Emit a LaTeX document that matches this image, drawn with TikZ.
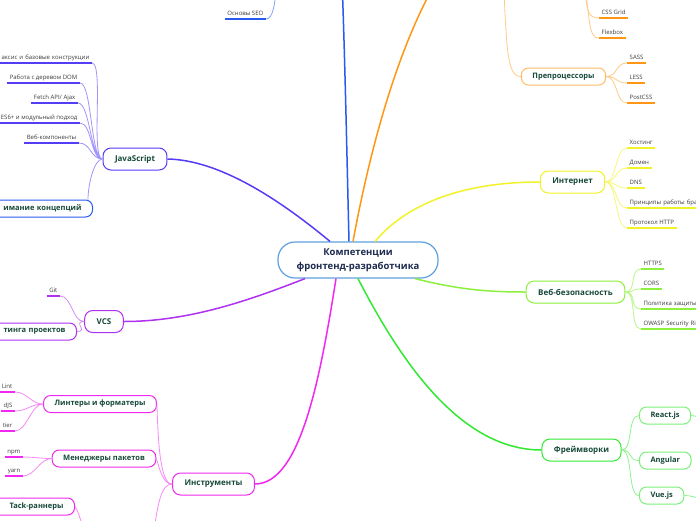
\documentclass[tikz,border=0pt]{standalone}
\usepackage{fontspec}
\setmainfont{Open Sans}
\usepackage{xcolor}
\usepackage{tikz}
\usetikzlibrary{positioning}

\definecolor{roottext}{RGB}{28,42,78}
\definecolor{nodetext}{RGB}{22,72,58}
\definecolor{leaftext}{RGB}{60,60,60}
\definecolor{rootblue}{RGB}{95,160,220}
\definecolor{htmlblue}{RGB}{40,90,240}
\definecolor{jsviolet}{RGB}{85,60,245}
\definecolor{vcspurple}{RGB}{175,50,240}
\definecolor{toolmagenta}{RGB}{240,40,240}
\definecolor{fwgreen}{RGB}{50,232,50}
\definecolor{seclime}{RGB}{140,240,60}
\definecolor{netyellow}{RGB}{242,242,40}
\definecolor{cssorange}{RGB}{255,150,20}

\tikzset{
    node_text/.style = {align=center, text=nodetext, fill=white, inner ysep=0pt},
    root_node/.style = {align=center, draw=rootblue, fill=white, rounded corners=17pt, line width=1.2pt, minimum width=160pt, minimum height=36pt, inner sep=0pt, text=roottext, font=\fontsize{9.5}{14}\selectfont\bfseries},
    main_node/.style = {node_text, draw=#1, rounded corners=8pt, line width=1pt, minimum height=22pt, inner xsep=12pt, font=\fontsize{8}{9}\selectfont\bfseries},
    sub_node/.style = {node_text, draw=#1, rounded corners=7pt, line width=1pt, minimum height=17pt, inner xsep=11pt, font=\fontsize{7.5}{9}\selectfont\bfseries},
    leaf/.style = {inner xsep=2.5pt, inner ysep=2pt, text height=4.6pt, text depth=1.2pt, text=leaftext, font=\fontsize{6}{7}\selectfont,
        append after command={(\tikzlastnode.south west) edge[draw=#1, line width=1.8pt] (\tikzlastnode.south east)}},
    trunk/.style = {draw=#1, line width=1.5pt},
    twig/.style = {draw=#1, line width=0.8pt},
    to_right/.style = {out=0, in=180, distance=12pt},
    to_left/.style = {out=180, in=0, distance=12pt}
}

\begin{document}
\begin{tikzpicture}[x=1pt, y=-1pt]
\path[use as bounding box, fill=white] (0,0) rectangle (696,520);
\clip (0,0) rectangle (696,520);

% parents outside the frame
\coordinate (html_in) at (342,-20);
\coordinate (html_out) at (277,-20);
\coordinate (css_in) at (440,-25);
\coordinate (css_out) at (503,-25);
\coordinate (layout_out) at (584,-25);
\coordinate (build_in) at (152,550);
\coordinate (build_out) at (88,545);
\coordinate (react_out) at (716,428);
\coordinate (vue_out) at (716,502);

\node[root_node] (root) at (358,260) {Компетенции\\фронтенд-разработчика};

% CSS side
\node[sub_node=cssorange!65] (prep) at (563.5,76.5) {Препроцессоры};
\node[leaf=cssorange, anchor=south west] (grid) at (599,18) {CSS Grid};
\node[leaf=cssorange, anchor=south west] (flexbox) at (599,38) {Flexbox};
\node[leaf=cssorange, anchor=south west] (sass) at (627,63) {SASS};
\node[leaf=cssorange, anchor=south west] (less) at (627,83) {LESS};
\node[leaf=cssorange, anchor=south west] (postcss) at (627,103) {PostCSS};

% Интернет
\node[main_node=netyellow] (internet) at (572.5,182) {Интернет};
\node[leaf=netyellow, anchor=south west] (hosting) at (627,148) {Хостинг};
\node[leaf=netyellow, anchor=south west] (domain) at (627,168) {Домен};
\node[leaf=netyellow, anchor=south west] (dns) at (627,188) {DNS};
\node[leaf=netyellow, anchor=south west, text width=80pt, align=left] (browser) at (627,208) {Принципы работы бра};
\node[leaf=netyellow, anchor=south west] (http) at (627,228) {Протокол HTTP};

% Веб-безопасность
\node[main_node=seclime] (websec) at (575.5,292) {Веб-безопасность};
\node[leaf=seclime, anchor=south west] (https) at (641,269) {HTTPS};
\node[leaf=seclime, anchor=south west] (cors) at (641,289) {CORS};
\node[leaf=seclime, anchor=south west, text width=70pt, align=left] (csp) at (641,309) {Политика защиты};
\node[leaf=seclime, anchor=south west, text width=70pt, align=left] (owasp) at (641,329) {OWASP Security Ris};

% Фреймворки
\node[main_node=fwgreen] (frameworks) at (581.5,450) {Фреймворки};
\node[sub_node=fwgreen!65, anchor=west] (react) at (639,415.5) {React.js};
\node[sub_node=fwgreen!65, anchor=west] (angular) at (639,460.5) {Angular};
\node[sub_node=fwgreen!65, anchor=west] (vue) at (639,495.5) {Vue.js};

% Инструменты
\node[main_node=toolmagenta] (tools) at (213.5,484) {Инструменты};
\node[sub_node=toolmagenta] (linters) at (100,404) {Линтеры и форматеры};
\node[sub_node=toolmagenta] (managers) at (104,458.5) {Менеджеры пакетов};
\node[sub_node=toolmagenta, anchor=east, text width=64pt, align=right] (tasks) at (75,506.5) {Tack-раннеры};
\node[leaf=toolmagenta, anchor=south east] (eslint) at (15,392) {Lint};
\node[leaf=toolmagenta, anchor=south east] (standardjs) at (15,411) {dJS};
\node[leaf=toolmagenta, anchor=south east] (prettier) at (15,431) {tier};
\node[leaf=toolmagenta, anchor=south east] (npm) at (23,457) {npm};
\node[leaf=toolmagenta, anchor=south east] (yarn) at (23,476) {yarn};

% VCS
\node[main_node=vcspurple] (vcs) at (104,321.5) {VCS};
\node[sub_node=vcspurple, anchor=east, text width=66pt, align=right] (hosting_proj) at (77,331.5) {тинга проектов};
\node[leaf=vcspurple, anchor=south east] (git) at (60,296) {Git};

% JavaScript
\node[main_node=jsviolet] (js) at (135,159) {JavaScript};
\node[sub_node=htmlblue, anchor=east, text width=82pt, align=right] (concepts) at (93,208.5) {имание концепций};
\node[leaf=jsviolet, anchor=south east, text width=90pt, align=right] (syntax) at (92,63) {аксис и базовые конструкции};
\node[leaf=jsviolet, anchor=south east] (dom) at (80,83) {Работа с деревом DOM};
\node[leaf=jsviolet, anchor=south east] (fetch) at (78,103) {Fetch API/ Ajax};
\node[leaf=jsviolet, anchor=south east] (es6) at (80,123) {ES6+ и модульный подход};
\node[leaf=jsviolet, anchor=south east] (webcomp) at (79,143) {Веб-компоненты};

% HTML
\node[leaf=htmlblue, anchor=south east] (seo) at (266,19) {Основы SEO};

% branches
\draw[trunk=htmlblue] ([xshift=-9pt]root.north) .. controls (347,160) and (345,60) .. (html_in);
\draw[twig=htmlblue!55] (html_out) .. controls (275,5) and (273,19) .. (seo.south east);

\draw[trunk=cssorange] ([xshift=-5pt]root.north) .. controls (368,160) and (395,50) .. (css_in);
\draw[twig=cssorange!50] (css_out) .. controls (507,45) and (506,76.5) .. (prep.west);
\draw[twig=cssorange!50] (layout_out) .. controls (586,12) and (588,18) .. (grid.south west);
\draw[twig=cssorange!50] (layout_out) .. controls (590,25) and (589,38) .. (flexbox.south west);
\draw[twig=cssorange!50, to_right] (prep.east) to (sass.south west)
    (prep.east) to (less.south west)
    (prep.east) to (postcss.south west);

\draw[trunk=netyellow] ([xshift=17pt]root.north) .. controls (410,200) and (470,182) .. (internet.west);
\draw[twig=netyellow!60, to_right] (internet.east) to (hosting.south west)
    (internet.east) to (domain.south west)
    (internet.east) to (dns.south west)
    (internet.east) to (browser.south west)
    (internet.east) to (http.south west);

\draw[trunk=seclime] ([xshift=57pt]root.south) .. controls (460,290) and (490,292) .. (websec.west);
\draw[twig=seclime!60, to_right] (websec.east) to (https.south west)
    (websec.east) to (cors.south west)
    (websec.east) to (csp.south west)
    (websec.east) to (owasp.south west);

\draw[trunk=fwgreen] (root.south) .. controls (400,360) and (460,450) .. (frameworks.west);
\draw[twig=fwgreen!55, to_right] (frameworks.east) to (react.west)
    (frameworks.east) to (angular.west)
    (frameworks.east) to (vue.west)
    (react.east) to (react_out)
    (vue.east) to (vue_out);

\draw[trunk=toolmagenta] ([xshift=-22pt]root.south) .. controls (320,380) and (300,484) .. (tools.east);
\draw[twig=toolmagenta!55] (tools.west) .. controls (160,484) and (158,440) .. (linters.east);
\draw[twig=toolmagenta!55] (tools.west) .. controls (163,484) and (160,470) .. (managers.east);
\draw[twig=toolmagenta!55] (tools.west) .. controls (162,484) and (157,500) .. (build_in);
\draw[twig=toolmagenta!55] (tasks.east) .. controls (79,512) and (82,525) .. (build_out);
\draw[twig=toolmagenta!55, to_left] (linters.west) to (eslint.south east)
    (linters.west) to (standardjs.south east)
    (linters.west) to (prettier.south east)
    (managers.west) to (npm.south east)
    (managers.west) to (yarn.south east);

\draw[trunk=vcspurple] ([xshift=-53pt]root.south) .. controls (250,300) and (190,321.5) .. (vcs.east);
\draw[twig=vcspurple!55, to_left] (vcs.west) to (git.south east)
    (vcs.west) to (hosting_proj.east);

\draw[trunk=jsviolet] ([xshift=-28pt]root.north) .. controls (280,200) and (220,160) .. (js.east);
\draw[twig=jsviolet!55, to_left] (js.west) to (syntax.south east)
    (js.west) to (dom.south east)
    (js.west) to (fetch.south east)
    (js.west) to (es6.south east)
    (js.west) to (webcomp.south east);
\draw[twig=jsviolet!55] (js.west) .. controls (94,159) and (88,185) .. ([xshift=-5pt]concepts.north east);
\end{tikzpicture}
\end{document}
